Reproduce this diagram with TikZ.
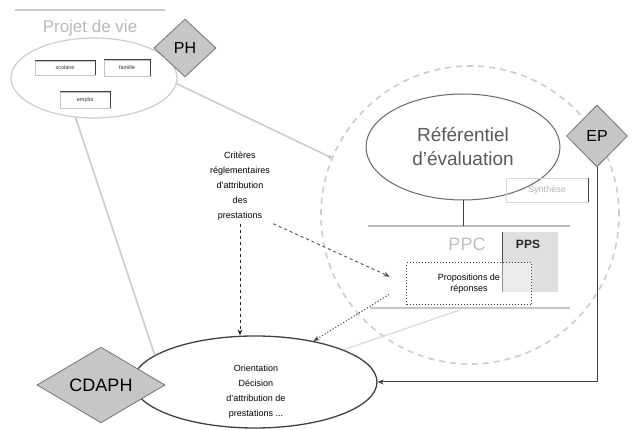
\documentclass[tikz,border=0pt]{standalone}
\usepackage{fontspec}
\setmainfont{Liberation Sans}
\usetikzlibrary{shapes.geometric,arrows.meta}
\begin{document}
\begin{tikzpicture}[x=1pt,y=-1pt,
  diam/.style={diamond, draw=black!55, fill=gray!45, line width=0.8pt, inner sep=0pt, text=black},
  tagbox/.style={draw=gray!45, inner sep=0pt, font=\fontsize{5.5}{6}\selectfont, text=black!80},
  soft/.style={draw=gray!40, line width=1.6pt},
  arr/.style={-{Stealth[length=6pt,width=5pt]}}
]
\useasboundingbox (0,0) rectangle (638,430);

% big dashed zone
\node[circle, draw=gray!40, line width=1.6pt, dash pattern=on 6pt off 5pt, minimum size=298pt] (zone) at (470,215) {};

% Projet de vie
\node[ellipse, draw=gray!40, line width=1.2pt, minimum width=166pt, minimum height=80pt] (pdv) at (94,78) {};
\coordinate (topl) at (15,10);
\coordinate (topr) at (165,10);
\draw[gray!40, line width=1.4pt] (topl) -- (topr);
\node[text=gray!55, font=\fontsize{17}{17}\selectfont] (pdvt) at (90,28) {Projet de vie};
\node[tagbox, minimum width=60pt, minimum height=14pt] (b1) at (65,68) {scolaire};
\node[tagbox, minimum width=46pt, minimum height=16pt] (b2) at (127,68) {famille};
\node[tagbox, minimum width=50pt, minimum height=16pt] (b3) at (85,100) {emploi};
\foreach \b in {b1,b2,b3}{\draw[black!75, line width=0.8pt] (\b.north west) -- (\b.north east) -- (\b.south east);}
\node[diam, minimum width=62pt, minimum height=58pt, font=\fontsize{16}{16}\selectfont] (ph) at (185,48) {PH};

% Référentiel
\node[ellipse, draw=black!60, line width=1pt, minimum width=194pt, minimum height=106pt, align=center, text=black!65, font=\fontsize{19}{24}\selectfont] (ref) at (463,147) {Référentiel\\d'évaluation};
\node[diam, minimum width=61pt, minimum height=62pt, font=\fontsize{16}{16}\selectfont] (ep) at (597,136) {EP};
\node[draw=gray!30, minimum width=82pt, minimum height=24pt, inner sep=0pt, text=gray!60, font=\fontsize{9}{10}\selectfont] (syn) at (547,190) {Synthèse};
\draw[black!75, line width=1pt] (syn.north east) -- (syn.south east);

% PPC frame
\coordinate (ppctl) at (368,226);
\coordinate (ppctr) at (570,226);
\coordinate (ppcbl) at (370,308);
\coordinate (ppcbr) at (570,308);
\coordinate (ppcbm) at (460,310);
\draw[gray!55, line width=1.2pt] (ppctl) -- (ppctr);
\draw[gray!45, line width=1.2pt] (ppcbl) -- (ppcbr);
\draw[black!75, line width=0.8pt] (ref.south) -- (ref.south |- ppctl);
\node[text=gray!50, font=\fontsize{18}{18}\selectfont] (ppc) at (467,244) {PPC};
\node[fill=gray!25, minimum width=55pt, minimum height=60pt, inner sep=0pt] (ppsbox) at (530,262) {};
\draw[black!70, line width=0.8pt] (ppsbox.north west) -- (ppsbox.south west);
\node[font=\bfseries\fontsize{12}{12}\selectfont, text=black!85] (pps) at (528,244) {PPS};
\node[draw=black!75, dotted, line width=1pt, fill=white, fill opacity=0.4, text opacity=1, minimum width=125pt, minimum height=42pt, inner sep=0pt, align=center, font=\fontsize{9}{11}\selectfont] (prop) at (469,284) {Propositions de\\réponses};

% Critères
\node[align=center, font=\fontsize{9}{15}\selectfont] (crit) at (240,186) {Critères\\réglementaires\\d'attribution\\des\\prestations};

% CDAPH
\node[ellipse, draw=black!75, line width=1.3pt, fill=white, minimum width=244pt, minimum height=92pt] (cde) at (255,382) {};
\node[align=center, font=\fontsize{9}{15}\selectfont] (cdt) at (256,392) {Orientation\\Décision\\d'attribution de\\prestations ...};
\node[diam, minimum width=128pt, minimum height=66pt, font=\fontsize{18}{18}\selectfont] (cdaph) at (101,385) {CDAPH};

% connectors
\coordinate (zl) at (330,157);
\draw[gray!40, line width=1.6pt] (pdv.-4) -- (zl);
\fill[gray!60] (zl) circle (1.6pt);
\draw[soft] (pdv.-115) -- (cde.165);
\draw[gray!30, line width=1.2pt] (cde.20) -- (ppcbm);
\draw[arr, dashed, black!85, line width=0.9pt] (crit.south) -- (cde.north -| crit.south);
\draw[arr, dashed, gray!60!black, line width=0.9pt, shorten >=18pt] (crit.south east) -- (prop.west);
\draw[arr, dotted, gray!60!black, line width=1.1pt, shorten <=20pt] (prop.west) -- (cde.35);
\draw[arr, black!75, line width=1pt] (ep.south) -- (ep.south |- cde.east) -- (cde.east);
\end{tikzpicture}
\end{document}
